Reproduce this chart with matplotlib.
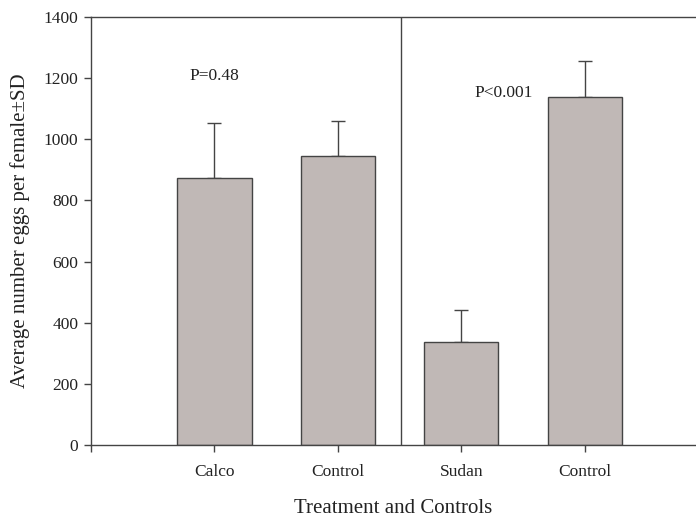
import numpy as np
import matplotlib.pyplot as plt

plt.rcParams['font.family'] = ['Liberation Serif', 'DejaVu Serif']

# data
groups = ["Calco", "Control", "Sudan", "Control"]
means = [874, 944, 336, 1138]
sds = [178, 117, 106, 118]
p_labels = ["P=0.48", "P<0.001"]

fig = plt.figure(figsize=(6.96, 5.19), dpi=100)
ax = fig.add_axes([91/696, 1 - 445/519, 1 - 91/696, 428/519])

x = np.arange(1, len(groups) + 1)
dark = "#444444"
ax.bar(x, means, width=0.6, color="#c0b8b6", edgecolor=dark, linewidth=1.0, zorder=2)
ax.errorbar(x, means, yerr=[np.zeros(len(sds)), sds], fmt="none",
            ecolor=dark, elinewidth=1.0, capsize=4.7, capthick=1.0, zorder=1)

ax.axvline(2.51, color=dark, lw=1.0)

ax.text(1.0, 1207, p_labels[0], ha="center", va="center", fontsize=12.5, color="#222")
ax.text(3.34, 1152, p_labels[1], ha="center", va="center", fontsize=12.5, color="#222")

ax.set_xlim(0, 4.9)
ax.set_ylim(0, 1400)
ax.set_yticks(np.arange(0, 1401, 200))
ax.set_xticks([0] + list(x))
ax.set_xticklabels([""] + groups, fontsize=12.5, color="#222")
ax.tick_params(axis="y", labelsize=12.5, labelcolor="#222", direction="out",
               length=5, width=1.0, color=dark, pad=4)
ax.tick_params(axis="x", direction="out", length=5, width=1.0, color=dark, pad=9)

for side in ["left", "bottom", "top"]:
    ax.spines[side].set_color(dark)
    ax.spines[side].set_linewidth(1.0)
ax.spines["right"].set_visible(False)

ax.set_ylabel("Average number eggs per female±SD", fontsize=15, color="#222")
ax.set_xlabel("Treatment and Controls", fontsize=15, color="#222")
ax.xaxis.set_label_coords(0.5, -54 / 428)
ax.yaxis.set_label_coords(-61 / 605, 0.5)

fig.savefig("out.png", dpi=100)
